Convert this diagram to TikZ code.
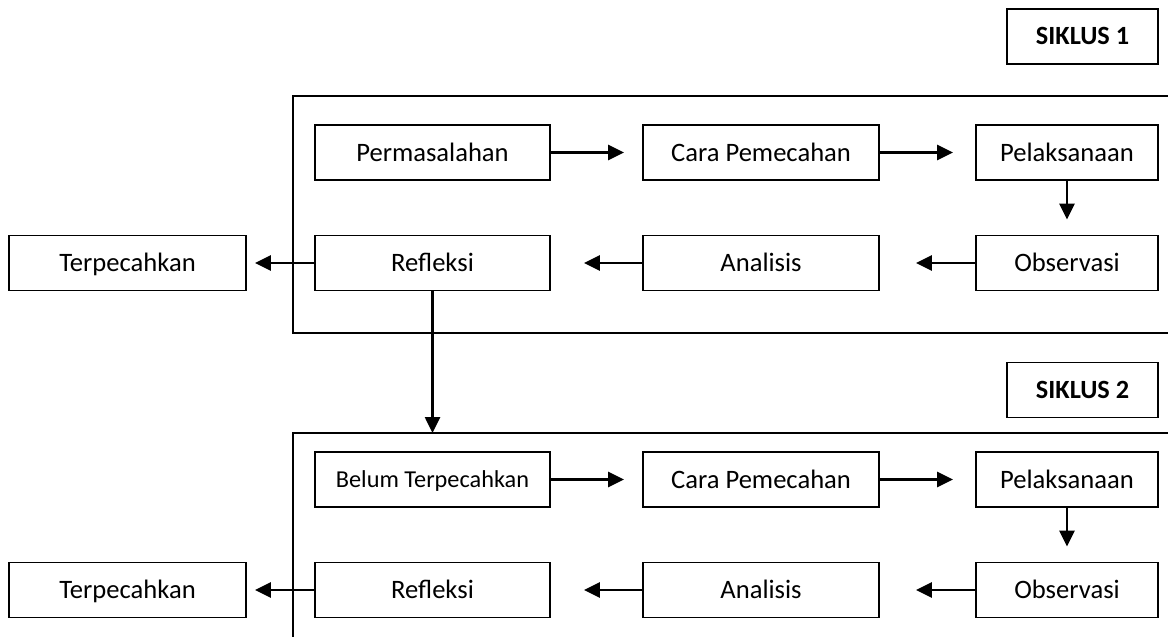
\documentclass[tikz,border=0pt]{standalone}
\usepackage{fontspec}
\setmainfont{Carlito}
\usetikzlibrary{arrows.meta}
\begin{document}
\begin{tikzpicture}[x=1pt,y=-1pt,
  box/.style={draw=black,line width=1.8pt,inner sep=0pt,minimum height=55pt,text height=17pt,text depth=0pt,font=\fontsize{26.6}{30}\selectfont,text=black},
  wA/.style={minimum width=235pt},
  wB/.style={minimum width=236pt},
  wC/.style={minimum width=182pt},
  wT/.style={minimum width=237pt},
  small/.style={font=\fontsize{24.3}{28}\selectfont,text height=15.6pt},
  lbl/.style={box,minimum width=151pt,font=\fontsize{26.3}{30}\selectfont\bfseries},
  frame/.style={draw=black,line width=1.8pt},
  arr/.style={draw=black,line width=2.6pt,-{Triangle[length=16pt,width=15pt]}}
]
\useasboundingbox (0,0) rectangle (1168,637);
% frames
\draw[frame] (1168,96) -- (293,96) -- (293,333) -- (1168,333);
\draw[frame] (1168,433) -- (293,433) -- (293,637);
\coordinate (f2top) at (432.5,433);
% labels
\node[lbl] (s1) at (1082.5,36.5) {SIKLUS 1};
\node[lbl] (s2) at (1082.5,390) {SIKLUS 2};
% cycle 1
\node[box,wA] (perm1) at (432.5,152.5) {Permasalahan};
\node[box,wB] (cara1) at (761,152.5) {Cara Pemecahan};
\node[box,wC] (pel1) at (1067,152.5) {Pelaksanaan};
\node[box,wC] (obs1) at (1067,263) {Observasi};
\node[box,wB] (ana1) at (761,263) {Analisis};
\node[box,wA] (ref1) at (432.5,263) {Refleksi};
\node[box,wT] (ter1) at (127.5,263) {Terpecahkan};
% cycle 2
\node[box,wA,small] (bel2) at (432.5,479.5) {Belum Terpecahkan};
\node[box,wB] (cara2) at (761,479.5) {Cara Pemecahan};
\node[box,wC] (pel2) at (1067,479.5) {Pelaksanaan};
\node[box,wC] (obs2) at (1067,590) {Observasi};
\node[box,wB] (ana2) at (761,590) {Analisis};
\node[box,wA] (ref2) at (432.5,590) {Refleksi};
\node[box,wT] (ter2) at (127.5,590) {Terpecahkan};
% arrows cycle 1
\draw[arr,shorten >=18pt] (perm1) -- (cara1);
\draw[arr,shorten >=22pt] (cara1) -- (pel1);
\draw[arr,shorten >=15pt] (pel1) -- (obs1);
\draw[arr,shorten >=36pt] (obs1) -- (ana1);
\draw[arr,shorten >=33pt] (ana1) -- (ref1);
\draw[arr,shorten >=8pt] (ref1) -- (ter1);
\draw[arr] (ref1.south) -- (f2top);
% arrows cycle 2
\draw[arr,shorten >=18pt] (bel2) -- (cara2);
\draw[arr,shorten >=22pt] (cara2) -- (pel2);
\draw[arr,shorten >=15pt] (pel2) -- (obs2);
\draw[arr,shorten >=36pt] (obs2) -- (ana2);
\draw[arr,shorten >=33pt] (ana2) -- (ref2);
\draw[arr,shorten >=8pt] (ref2) -- (ter2);
\end{tikzpicture}
\end{document}
